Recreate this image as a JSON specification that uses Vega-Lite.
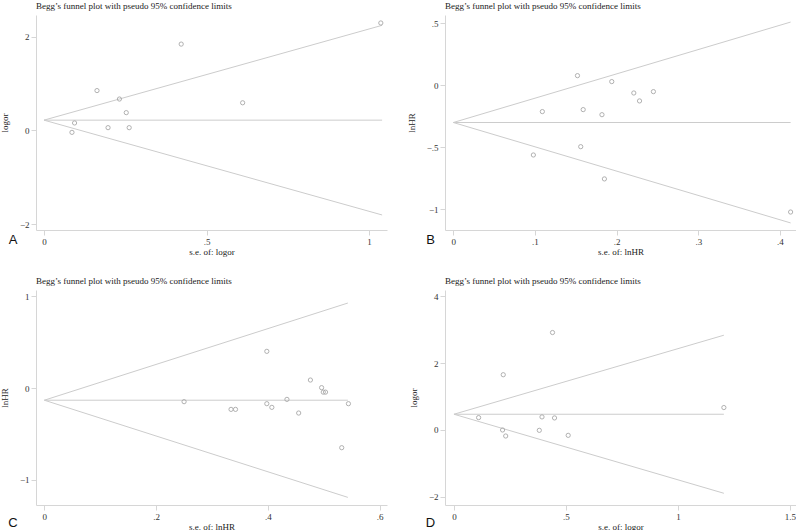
{
  "$schema": "https://vega.github.io/schema/vega-lite/v6.json",
  "padding": {"left": 0, "top": 2, "right": 0, "bottom": 0},
  "background": "white",
  "columns": 2,
  "spacing": {"row": 60, "column": 58},
  "bounds": "flush",
  "datasets": {
    "points": [
      {"panel": "A", "x": 1.036, "y": 2.29},
      {"panel": "A", "x": 0.422, "y": 1.84},
      {"panel": "A", "x": 0.163, "y": 0.85},
      {"panel": "A", "x": 0.232, "y": 0.67},
      {"panel": "A", "x": 0.253, "y": 0.38},
      {"panel": "A", "x": 0.094, "y": 0.16},
      {"panel": "A", "x": 0.086, "y": -0.04},
      {"panel": "A", "x": 0.197, "y": 0.06},
      {"panel": "A", "x": 0.262, "y": 0.06},
      {"panel": "A", "x": 0.611, "y": 0.59},
      {"panel": "B", "x": 0.152, "y": 0.078},
      {"panel": "B", "x": 0.194, "y": 0.030},
      {"panel": "B", "x": 0.221, "y": -0.062},
      {"panel": "B", "x": 0.228, "y": -0.126},
      {"panel": "B", "x": 0.245, "y": -0.051},
      {"panel": "B", "x": 0.109, "y": -0.212},
      {"panel": "B", "x": 0.159, "y": -0.196},
      {"panel": "B", "x": 0.182, "y": -0.237},
      {"panel": "B", "x": 0.156, "y": -0.495},
      {"panel": "B", "x": 0.098, "y": -0.562},
      {"panel": "B", "x": 0.185, "y": -0.755},
      {"panel": "B", "x": 0.413, "y": -1.022},
      {"panel": "C", "x": 0.398, "y": 0.40},
      {"panel": "C", "x": 0.476, "y": 0.087},
      {"panel": "C", "x": 0.496, "y": 0.004},
      {"panel": "C", "x": 0.499, "y": -0.045},
      {"panel": "C", "x": 0.503, "y": -0.045},
      {"panel": "C", "x": 0.250, "y": -0.149},
      {"panel": "C", "x": 0.334, "y": -0.233},
      {"panel": "C", "x": 0.342, "y": -0.233},
      {"panel": "C", "x": 0.398, "y": -0.171},
      {"panel": "C", "x": 0.407, "y": -0.211},
      {"panel": "C", "x": 0.434, "y": -0.124},
      {"panel": "C", "x": 0.455, "y": -0.273},
      {"panel": "C", "x": 0.544, "y": -0.171},
      {"panel": "C", "x": 0.532, "y": -0.651},
      {"panel": "D", "x": 0.440, "y": 2.91},
      {"panel": "D", "x": 0.220, "y": 1.65},
      {"panel": "D", "x": 1.205, "y": 0.67},
      {"panel": "D", "x": 0.110, "y": 0.37},
      {"panel": "D", "x": 0.393, "y": 0.39},
      {"panel": "D", "x": 0.449, "y": 0.36},
      {"panel": "D", "x": 0.217, "y": 0.00},
      {"panel": "D", "x": 0.381, "y": -0.01},
      {"panel": "D", "x": 0.231, "y": -0.18},
      {"panel": "D", "x": 0.510, "y": -0.16}
    ],
    "funnel": [
      {"panel": "A", "x": 0, "y": 0.22, "x2": 1.04, "y2": 2.24},
      {"panel": "A", "x": 0, "y": 0.22, "x2": 1.04, "y2": 0.22},
      {"panel": "A", "x": 0, "y": 0.22, "x2": 1.04, "y2": -1.80},
      {"panel": "B", "x": 0, "y": -0.30, "x2": 0.413, "y2": 0.51},
      {"panel": "B", "x": 0, "y": -0.30, "x2": 0.413, "y2": -0.30},
      {"panel": "B", "x": 0, "y": -0.30, "x2": 0.413, "y2": -1.11},
      {"panel": "C", "x": 0, "y": -0.133, "x2": 0.543, "y2": 0.927},
      {"panel": "C", "x": 0, "y": -0.133, "x2": 0.543, "y2": -0.133},
      {"panel": "C", "x": 0, "y": -0.133, "x2": 0.543, "y2": -1.193},
      {"panel": "D", "x": 0, "y": 0.47, "x2": 1.205, "y2": 2.83},
      {"panel": "D", "x": 0, "y": 0.47, "x2": 1.205, "y2": 0.47},
      {"panel": "D", "x": 0, "y": 0.47, "x2": 1.205, "y2": -1.89}
    ]
  },
  "concat": [
    {
      "width": 351, "height": 215,
      "title": "Begg’s funnel plot with pseudo 95% confidence limits",
      "layer": [
        {
          "data": {"name": "funnel"},
          "transform": [{"filter": "datum.panel == 'A'"}],
          "mark": {"type": "rule", "color": "#cccccc", "strokeWidth": 1},
          "encoding": {
            "x": {"field": "x", "type": "quantitative", "scale": {"domain": [-0.0246, 1.055], "nice": false, "zero": false}, "axis": {"values": [0, 0.5, 1], "title": "s.e. of: logor"}},
            "y": {"field": "y", "type": "quantitative", "scale": {"domain": [-2.12, 2.46], "nice": false, "zero": false}, "axis": {"values": [-2, 0, 2], "title": "logor"}},
            "x2": {"field": "x2"},
            "y2": {"field": "y2"}
          }
        },
        {
          "data": {"name": "points"},
          "transform": [{"filter": "datum.panel == 'A'"}],
          "mark": {"type": "point", "shape": "circle", "filled": false, "size": 18, "color": "#a8a8a8", "strokeWidth": 0.9, "opacity": 1},
          "encoding": {
            "x": {"field": "x", "type": "quantitative"},
            "y": {"field": "y", "type": "quantitative"}
          }
        },
        {
          "data": {"values": [{"label": "A"}]},
          "mark": {"type": "text", "font": "Liberation Sans", "fontSize": 13, "align": "center", "baseline": "middle", "color": "#111"},
          "encoding": {
            "x": {"datum": -0.095},
            "y": {"datum": -2.343},
            "text": {"field": "label"}
          }
        }
      ]
    },
    {
      "width": 351, "height": 215,
      "title": "Begg’s funnel plot with pseudo 95% confidence limits",
      "layer": [
        {
          "data": {"name": "funnel"},
          "transform": [{"filter": "datum.panel == 'B'"}],
          "mark": {"type": "rule", "color": "#cccccc", "strokeWidth": 1},
          "encoding": {
            "x": {"field": "x", "type": "quantitative", "scale": {"domain": [-0.0102, 0.4196], "nice": false, "zero": false}, "axis": {"values": [0, 0.1, 0.2, 0.3, 0.4], "title": "s.e. of: lnHR"}},
            "y": {"field": "y", "type": "quantitative", "scale": {"domain": [-1.167, 0.567], "nice": false, "zero": false}, "axis": {"values": [-1, -0.5, 0, 0.5], "title": "lnHR"}},
            "x2": {"field": "x2"},
            "y2": {"field": "y2"}
          }
        },
        {
          "data": {"name": "points"},
          "transform": [{"filter": "datum.panel == 'B'"}],
          "mark": {"type": "point", "shape": "circle", "filled": false, "size": 18, "color": "#a8a8a8", "strokeWidth": 0.9, "opacity": 1},
          "encoding": {
            "x": {"field": "x", "type": "quantitative"},
            "y": {"field": "y", "type": "quantitative"}
          }
        },
        {
          "data": {"values": [{"label": "B"}]},
          "mark": {"type": "text", "font": "Liberation Sans", "fontSize": 13, "align": "center", "baseline": "middle", "color": "#111"},
          "encoding": {
            "x": {"datum": -0.028},
            "y": {"datum": -1.247},
            "text": {"field": "label"}
          }
        }
      ]
    },
    {
      "width": 351, "height": 215,
      "title": "Begg’s funnel plot with pseudo 95% confidence limits",
      "layer": [
        {
          "data": {"name": "funnel"},
          "transform": [{"filter": "datum.panel == 'C'"}],
          "mark": {"type": "rule", "color": "#cccccc", "strokeWidth": 1},
          "encoding": {
            "x": {"field": "x", "type": "quantitative", "scale": {"domain": [-0.0149, 0.613], "nice": false, "zero": false}, "axis": {"values": [0, 0.2, 0.4, 0.6], "title": "s.e. of: lnHR"}},
            "y": {"field": "y", "type": "quantitative", "scale": {"domain": [-1.276, 1.069], "nice": false, "zero": false}, "axis": {"values": [-1, 0, 1], "title": "lnHR"}},
            "x2": {"field": "x2"},
            "y2": {"field": "y2"}
          }
        },
        {
          "data": {"name": "points"},
          "transform": [{"filter": "datum.panel == 'C'"}],
          "mark": {"type": "point", "shape": "circle", "filled": false, "size": 18, "color": "#a8a8a8", "strokeWidth": 0.9, "opacity": 1},
          "encoding": {
            "x": {"field": "x", "type": "quantitative"},
            "y": {"field": "y", "type": "quantitative"}
          }
        },
        {
          "data": {"values": [{"label": "C"}]},
          "mark": {"type": "text", "font": "Liberation Sans", "fontSize": 13, "align": "center", "baseline": "middle", "color": "#111"},
          "encoding": {
            "x": {"datum": -0.056},
            "y": {"datum": -1.473},
            "text": {"field": "label"}
          }
        }
      ]
    },
    {
      "width": 351, "height": 215,
      "title": "Begg’s funnel plot with pseudo 95% confidence limits",
      "layer": [
        {
          "data": {"name": "funnel"},
          "transform": [{"filter": "datum.panel == 'D'"}],
          "mark": {"type": "rule", "color": "#cccccc", "strokeWidth": 1},
          "encoding": {
            "x": {"field": "x", "type": "quantitative", "scale": {"domain": [-0.040, 1.527], "nice": false, "zero": false}, "axis": {"values": [0, 0.5, 1, 1.5], "title": "s.e. of: logor"}},
            "y": {"field": "y", "type": "quantitative", "scale": {"domain": [-2.24, 4.18], "nice": false, "zero": false}, "axis": {"values": [-2, 0, 2, 4], "title": "logor"}},
            "x2": {"field": "x2"},
            "y2": {"field": "y2"}
          }
        },
        {
          "data": {"name": "points"},
          "transform": [{"filter": "datum.panel == 'D'"}],
          "mark": {"type": "point", "shape": "circle", "filled": false, "size": 18, "color": "#a8a8a8", "strokeWidth": 0.9, "opacity": 1},
          "encoding": {
            "x": {"field": "x", "type": "quantitative"},
            "y": {"field": "y", "type": "quantitative"}
          }
        },
        {
          "data": {"values": [{"label": "D"}]},
          "mark": {"type": "text", "font": "Liberation Sans", "fontSize": 13, "align": "center", "baseline": "middle", "color": "#111"},
          "encoding": {
            "x": {"datum": -0.105},
            "y": {"datum": -2.78},
            "text": {"field": "label"}
          }
        }
      ]
    }
  ],
  "config": {
    "view": {"stroke": null},
    "axis": {
      "grid": false,
      "labelFont": "Liberation Serif",
      "titleFont": "Liberation Serif",
      "labelFontSize": 9,
      "titleFontSize": 9,
      "titleFontWeight": "normal",
      "labelColor": "#333333",
      "titleColor": "#222222",
      "domainColor": "#d6d6d6",
      "tickColor": "#d6d6d6",
      "tickSize": 5,
      "labelPadding": 2,
      "labelExpr": "replace(format(datum.value, '~g'), '0.', '.')"
    },
    "axisY": {"labelAngle": 0, "titlePadding": 10},
    "axisX": {"titlePadding": 1, "labelPadding": 2, "labelFlush": false},
    "title": {
      "font": "Liberation Serif",
      "fontSize": 9,
      "fontWeight": "normal",
      "anchor": "start",
      "frame": "group",
      "color": "#222222",
      "offset": 4
    }
  }
}
